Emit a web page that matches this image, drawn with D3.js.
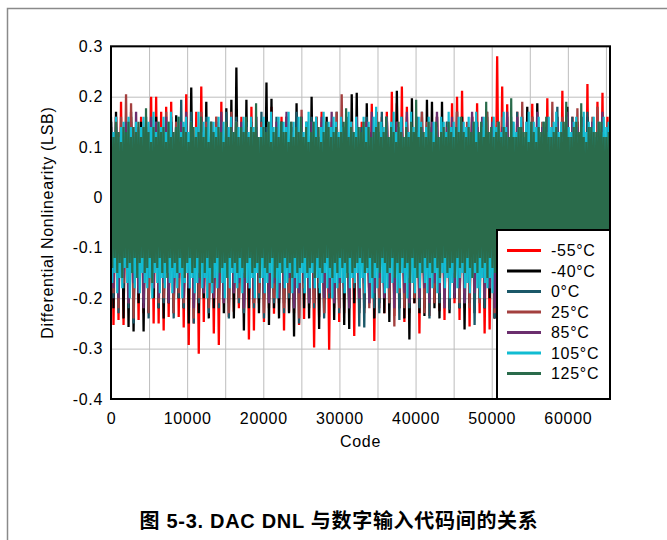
<!DOCTYPE html>
<html>
<head>
<meta charset="utf-8">
<script src="https://cdn.jsdelivr.net/npm/d3@7"></script>
<style>
  body { margin: 0; background: #fff; }
  svg text { font-family: "Liberation Sans", Arial, sans-serif; fill: #000; }
</style>
</head>
<body>
<svg id="chart" width="667" height="540"></svg>
<script>
// ---- axis definitions ----
const codeMax = 65535;
const xTicks = [0, 10000, 20000, 30000, 40000, 50000, 60000];
const xGrid = [5000, 10000, 15000, 20000, 25000, 30000, 35000, 40000, 45000, 50000, 55000, 60000, 65000];
const yTicks = [-0.4, -0.3, -0.2, -0.1, 0, 0.1, 0.2, 0.3];
const yTickLabels = ["-0.4", "-0.3", "-0.2", "-0.1", "0", "0.1", "0.2", "0.3"];

// ---- series (drawn in this order; later ones sit on top) ----
const seriesNames = ["-55°C", "-40°C", "0°C", "25°C", "85°C", "105°C", "125°C"];
const seriesColors = ["#ff0000", "#000000", "#1b5868", "#a3403f", "#6b2e6e", "#11bcd2", "#2a6b4b"];

// Positive DNL peaks (LSB) at evenly spaced code windows
const hiM55 = [
  .14,.16,.19,.13,.15,.14,.16,.13,.2,.2,
  .17,.18,.19,.14,.13,.205,.15,.17,.22,.14,
  .13,.16,.19,.15,.14,.13,.16,.15,.18,.14,
  .15,.13,.18,.14,.16,.15,.13,.14,.16,.15,
  .14,.16,.17,.13,.15,.14,.16,.15,.13,.14,
  .15,.14,.186,.13,.16,.17,.21,.187,.22,.18,
  .14,.15,.16,.13,.14,.16,.15,.13,.187,.2,
  .212,.14,.16,.187,.15,.13,.16,.28,.22,.185,
  .14,.17,.15,.13,.186,.16,.14,.197,.15,.13,
  .212,.14,.16,.15,.13,.225,.14,.19,.208,.16];
const hiM40 = [
  .15,.17,.13,.14,.16,.12,.15,.14,.13,.16,
  .14,.12,.15,.163,.13,.16,.218,.14,.12,.19,
  .13,.15,.14,.177,.194,.258,.13,.194,.15,.12,
  .14,.228,.196,.13,.15,.16,.12,.187,.14,.13,
  .2,.15,.13,.16,.14,.12,.15,.13,.205,.208,
  .14,.187,.13,.15,.12,.16,.14,.212,.13,.15,
  .197,.14,.12,.194,.19,.13,.19,.15,.14,.12,
  .16,.13,.15,.14,.12,.16,.13,.15,.14,.12,
  .15,.13,.16,.18,.14,.187,.12,.15,.13,.16,
  .14,.18,.13,.15,.12,.16,.14,.13,.15,.14];
const hi0 = [
  .16,.14,.13,.15,.17,.12,.14,.16,.13,.15,
  .14,.12,.16,.15,.194,.13,.17,.14,.12,.16,
  .15,.13,.14,.17,.12,.16,.13,.15,.14,.12,
  .17,.14,.13,.16,.15,.12,.14,.17,.13,.15,
  .16,.13,.12,.15,.14,.17,.13,.16,.15,.12,
  .14,.16,.13,.12,.17,.15,.14,.13,.16,.14,
  .12,.15,.17,.13,.14,.16,.12,.15,.13,.17,
  .14,.12,.16,.15,.13,.17,.14,.12,.15,.16,
  .13,.17,.14,.12,.16,.15,.13,.14,.12,.18,
  .15,.13,.16,.14,.12,.17,.15,.13,.16,.14];
const hi25 = [
  .15,.13,.16,.205,.187,.14,.12,.15,.16,.13,
  .14,.17,.12,.15,.13,.16,.14,.12,.17,.15,
  .13,.16,.14,.12,.17,.15,.13,.14,.16,.12,
  .15,.13,.17,.14,.12,.16,.15,.13,.174,.14,
  .12,.16,.15,.13,.14,.17,.205,.12,.15,.16,
  .13,.15,.12,.17,.14,.16,.13,.15,.12,.16,
  .14,.12,.17,.15,.13,.16,.14,.12,.15,.17,
  .13,.15,.16,.12,.14,.17,.13,.15,.16,.12,
  .15,.14,.19,.13,.16,.12,.15,.14,.19,.13,
  .16,.12,.14,.177,.15,.13,.16,.18,.14,.15];
const hi85 = [
  .14,.16,.13,.15,.12,.17,.14,.13,.16,.15,
  .13,.16,.14,.12,.15,.17,.13,.14,.16,.12,
  .15,.13,.17,.14,.16,.12,.15,.14,.13,.16,
  .14,.12,.16,.15,.13,.17,.14,.12,.16,.13,
  .15,.14,.16,.13,.17,.12,.15,.14,.13,.16,
  .12,.15,.17,.14,.13,.16,.12,.15,.14,.17,
  .13,.16,.14,.12,.15,.17,.13,.14,.16,.12,
  .15,.13,.17,.14,.16,.12,.15,.13,.14,.17,
  .14,.16,.12,.15,.13,.17,.14,.16,.12,.15,
  .13,.17,.15,.14,.16,.12,.15,.13,.17,.14];
// 105°C and 125°C are sampled at twice the resolution
const hi105 = [
  .15,.13,.16,.12,.14,.15,.13,.16,.14,.12,
  .15,.13,.14,.16,.12,.15,.14,.17,.13,.15,
  .14,.16,.13,.15,.17,.12,.14,.16,.13,.15,
  .16,.13,.15,.12,.14,.17,.13,.15,.14,.16,
  .12,.15,.14,.16,.13,.15,.12,.14,.16,.13,
  .15,.14,.12,.16,.15,.13,.16,.14,.15,.12,
  .14,.16,.13,.15,.17,.14,.12,.16,.13,.15,
  .14,.17,.13,.15,.12,.16,.14,.13,.15,.17,
  .13,.15,.16,.12,.14,.17,.13,.15,.14,.16,
  .15,.13,.16,.14,.12,.17,.15,.13,.16,.14,
  .13,.16,.14,.15,.12,.16,.18,.13,.15,.14,
  .16,.12,.15,.17,.13,.14,.16,.12,.15,.13,
  .17,.14,.13,.16,.15,.12,.14,.16,.13,.15,
  .14,.12,.16,.15,.13,.17,.14,.15,.12,.16,
  .13,.15,.14,.16,.12,.15,.17,.13,.14,.16,
  .15,.13,.12,.16,.14,.15,.13,.17,.14,.12,
  .16,.15,.13,.14,.16,.12,.15,.17,.13,.15,
  .14,.16,.12,.15,.13,.16,.14,.15,.17,.13,
  .15,.12,.16,.14,.13,.15,.16,.12,.14,.17,
  .13,.15,.14,.16,.12,.15,.13,.16,.14,.15];
const hi125 = [
  .14,.12,.15,.13,.11,.14,.13,.15,.12,.14,
  .13,.15,.12,.14,.177,.13,.11,.14,.12,.15,
  .13,.14,.11,.15,.12,.13,.14,.16,.12,.14,
  .13,.11,.15,.14,.12,.13,.16,.12,.14,.11,
  .15,.13,.12,.14,.13,.11,.15,.12,.14,.13,
  .15,.12,.14,.13,.16,.12,.14,.13,.187,.12,
  .12,.14,.13,.15,.11,.13,.14,.12,.15,.13,
  .13,.11,.15,.12,.14,.13,.16,.12,.14,.11,
  .13,.15,.12,.14,.11,.13,.15,.14,.12,.13,
  .14,.12,.13,.15,.177,.12,.14,.13,.12,.14,
  .13,.15,.11,.14,.12,.13,.14,.15,.12,.13,
  .16,.12,.14,.13,.11,.15,.13,.12,.14,.12,
  .15,.13,.194,.12,.14,.13,.12,.15,.13,.11,
  .15,.12,.13,.14,.12,.15,.13,.12,.14,.13,
  .16,.13,.12,.14,.13,.15,.11,.13,.15,.12,
  .19,.13,.14,.12,.13,.15,.12,.14,.13,.12,
  .197,.12,.12,.14,.14,.13,.13,.11,.15,.13,
  .11,.14,.13,.15,.16,.12,.12,.13,.14,.12,
  .13,.15,.19,.12,.12,.14,.15,.13,.187,.12,
  .11,.14,.14,.13,.13,.15,.15,.12,.12,.13];

// Negative DNL troughs (LSB), one after each peak
const loM55 = [
  -.253,-.243,-.253,-.22,-.21,-.243,-.23,-.228,-.25,-.25,
  -.264,-.237,-.22,-.237,-.258,-.293,-.25,-.31,-.247,-.22,
  -.27,-.293,-.21,-.237,-.227,-.22,-.23,-.282,-.264,-.21,
  -.247,-.22,-.231,-.21,-.264,-.227,-.23,-.253,-.241,-.22,
  -.298,-.237,-.21,-.302,-.22,-.247,-.23,-.21,-.275,-.22,
  -.23,-.21,-.285,-.22,-.23,-.21,-.235,-.22,-.247,-.23,
  -.21,-.27,-.22,-.235,-.21,-.226,-.243,-.22,-.21,-.243,
  -.22,-.256,-.21,-.23,-.27,-.262,-.24,-.22,-.26,-.23,
  -.25,-.22,-.27,-.23,-.21,-.26,-.24,-.22,-.28,-.23,
  -.21,-.26,-.24,-.22,-.27,-.23,-.25,-.21,-.26,-.24];
const loM40 = [
  -.22,-.2,-.24,-.257,-.266,-.21,-.266,-.23,-.2,-.22,
  -.24,-.21,-.23,-.2,-.22,-.25,-.21,-.23,-.2,-.24,
  -.22,-.2,-.23,-.21,-.24,-.2,-.264,-.22,-.21,-.23,
  -.2,-.253,-.22,-.24,-.21,-.23,-.276,-.2,-.22,-.24,
  -.21,-.261,-.23,-.2,-.243,-.22,-.253,-.261,-.21,-.23,
  -.22,-.2,-.24,-.21,-.23,-.247,-.2,-.22,-.24,-.282,
  -.21,-.23,-.235,-.2,-.22,-.24,-.21,-.23,-.2,-.22,
  -.262,-.21,-.23,-.2,-.22,-.2,-.24,-.22,-.21,-.23,
  -.2,-.24,-.22,-.21,-.23,-.2,-.25,-.22,-.21,-.24,
  -.22,-.2,-.23,-.21,-.24,-.22,-.2,-.23,-.21,-.25];
const lo0 = [
  -.2,-.23,-.18,-.22,-.25,-.19,-.21,-.24,-.18,-.22,
  -.21,-.19,-.24,-.2,-.22,-.18,-.25,-.21,-.19,-.23,
  -.18,-.22,-.2,-.24,-.19,-.21,-.23,-.18,-.22,-.2,
  -.24,-.19,-.21,-.18,-.23,-.2,-.22,-.25,-.19,-.21,
  -.22,-.18,-.24,-.2,-.21,-.23,-.19,-.22,-.18,-.256,
  -.258,-.2,-.22,-.23,-.19,-.21,-.18,-.243,-.2,-.22,
  -.19,-.22,-.2,-.24,-.18,-.21,-.2,-.223,-.19,-.22,
  -.21,-.19,-.253,-.2,-.22,-.18,-.24,-.2,-.21,-.19,
  -.23,-.2,-.18,-.22,-.21,-.24,-.19,-.21,-.23,-.2,
  -.18,-.22,-.21,-.19,-.24,-.2,-.22,-.18,-.21,-.23];
const lo25 = [
  -.19,-.22,-.17,-.21,-.24,-.18,-.2,-.23,-.17,-.21,
  -.2,-.18,-.23,-.19,-.21,-.17,-.24,-.2,-.18,-.22,
  -.17,-.21,-.19,-.23,-.18,-.2,-.22,-.17,-.21,-.19,
  -.23,-.18,-.2,-.17,-.22,-.19,-.21,-.24,-.18,-.2,
  -.21,-.17,-.23,-.19,-.2,-.22,-.18,-.21,-.17,-.2,
  -.19,-.22,-.18,-.2,-.17,-.21,-.256,-.19,-.22,-.18,
  -.2,-.17,-.23,-.19,-.21,-.18,-.22,-.2,-.17,-.21,
  -.19,-.22,-.18,-.21,-.2,-.17,-.23,-.19,-.21,-.18,
  -.22,-.19,-.17,-.21,-.2,-.23,-.18,-.2,-.22,-.19,
  -.17,-.21,-.2,-.18,-.23,-.19,-.21,-.17,-.2,-.22];
const lo85 = [
  -.18,-.2,-.16,-.21,-.17,-.19,-.22,-.16,-.18,-.2,
  -.17,-.21,-.19,-.16,-.2,-.18,-.22,-.17,-.19,-.16,
  -.2,-.18,-.21,-.16,-.19,-.17,-.22,-.18,-.2,-.16,
  -.19,-.21,-.17,-.2,-.18,-.16,-.22,-.19,-.17,-.21,
  -.18,-.16,-.2,-.19,-.21,-.17,-.18,-.22,-.16,-.2,
  -.17,-.21,-.19,-.16,-.2,-.18,-.22,-.17,-.19,-.21,
  -.16,-.2,-.18,-.21,-.17,-.19,-.22,-.16,-.2,-.18,
  -.21,-.17,-.19,-.16,-.2,-.18,-.22,-.17,-.19,-.21,
  -.18,-.16,-.2,-.19,-.17,-.21,-.18,-.22,-.16,-.19,
  -.2,-.17,-.21,-.18,-.16,-.19,-.22,-.17,-.2,-.18];
const lo105 = [
  -.17,-.15,-.19,-.16,-.18,-.14,-.17,-.2,-.15,-.18,
  -.16,-.19,-.15,-.17,-.18,-.16,-.2,-.15,-.17,-.19,
  -.16,-.18,-.15,-.17,-.19,-.16,-.18,-.15,-.2,-.17,
  -.15,-.18,-.16,-.19,-.17,-.15,-.18,-.16,-.2,-.17,
  -.19,-.16,-.18,-.15,-.17,-.2,-.16,-.18,-.15,-.17,
  -.18,-.16,-.19,-.15,-.17,-.18,-.16,-.2,-.15,-.17,
  -.16,-.19,-.17,-.15,-.18,-.16,-.2,-.17,-.15,-.18,
  -.17,-.15,-.19,-.16,-.18,-.17,-.15,-.19,-.16,-.18,
  -.15,-.18,-.16,-.19,-.17,-.15,-.18,-.16,-.2,-.17,
  -.18,-.16,-.17,-.19,-.15,-.18,-.16,-.17,-.15,-.18,
  -.16,-.19,-.15,-.17,-.2,-.16,-.18,-.15,-.17,-.19,
  -.18,-.15,-.17,-.16,-.19,-.18,-.15,-.17,-.2,-.16,
  -.17,-.19,-.16,-.18,-.15,-.17,-.19,-.16,-.18,-.15,
  -.19,-.17,-.15,-.18,-.16,-.2,-.17,-.15,-.18,-.16,
  -.15,-.18,-.17,-.19,-.16,-.15,-.18,-.2,-.16,-.17,
  -.18,-.16,-.19,-.15,-.17,-.18,-.16,-.19,-.15,-.17,
  -.16,-.18,-.15,-.2,-.17,-.16,-.19,-.15,-.18,-.17,
  -.19,-.15,-.17,-.16,-.18,-.19,-.15,-.17,-.16,-.18,
  -.15,-.17,-.19,-.16,-.18,-.15,-.17,-.2,-.16,-.18,
  -.17,-.16,-.18,-.15,-.19,-.17,-.16,-.18,-.15,-.17];
const lo125 = [
  -.14,-.12,-.15,-.13,-.16,-.12,-.14,-.13,-.15,-.12,
  -.16,-.13,-.12,-.15,-.14,-.12,-.17,-.13,-.14,-.12,
  -.15,-.13,-.16,-.12,-.14,-.13,-.15,-.12,-.14,-.16,
  -.13,-.12,-.15,-.14,-.12,-.16,-.13,-.15,-.12,-.14,
  -.17,-.13,-.12,-.15,-.14,-.13,-.16,-.12,-.14,-.13,
  -.15,-.12,-.14,-.16,-.13,-.12,-.15,-.14,-.13,-.16,
  -.12,-.14,-.15,-.13,-.12,-.16,-.14,-.13,-.15,-.12,
  -.14,-.13,-.16,-.12,-.15,-.14,-.13,-.12,-.15,-.14,
  -.13,-.16,-.12,-.14,-.15,-.13,-.12,-.14,-.16,-.13,
  -.15,-.12,-.14,-.13,-.16,-.12,-.15,-.14,-.13,-.12,
  -.13,-.15,-.14,-.12,-.16,-.13,-.14,-.15,-.12,-.13,
  -.15,-.14,-.12,-.16,-.13,-.15,-.12,-.14,-.13,-.17,
  -.12,-.14,-.16,-.13,-.15,-.12,-.14,-.13,-.15,-.12,
  -.14,-.16,-.13,-.12,-.15,-.14,-.13,-.16,-.12,-.14,
  -.13,-.15,-.12,-.14,-.16,-.13,-.15,-.12,-.14,-.13,
  -.16,-.12,-.14,-.15,-.13,-.12,-.14,-.16,-.13,-.15,
  -.12,-.14,-.13,-.15,-.16,-.12,-.13,-.14,-.15,-.13,
  -.14,-.12,-.16,-.13,-.15,-.14,-.12,-.13,-.16,-.14,
  -.13,-.15,-.12,-.14,-.13,-.16,-.15,-.12,-.14,-.13,
  -.15,-.13,-.14,-.16,-.12,-.14,-.13,-.15,-.12,-.14];

const peaks = [hiM55, hiM40, hi0, hi25, hi85, hi105, hi125];
const troughs = [loM55, loM40, lo0, lo25, lo85, lo105, lo125];

// ---- layout ----
const svg = d3.select("#chart");
const plot = { left: 111, right: 610, top: 46.3, bottom: 399 };

const x = d3.scaleLinear().domain([0, codeMax]).range([plot.left, plot.right]);
const y = d3.scaleLinear().domain([-0.4, 0.3]).range([plot.bottom, plot.top]);

// outer figure frame
svg.append("path")
  .attr("d", "M7.5,540 L7.5,8.5 L667,8.5")
  .attr("fill", "none").attr("stroke", "#8a8a8a").attr("stroke-width", 1.5);

// gridlines
svg.append("g")
  .attr("transform", `translate(0,${plot.bottom})`)
  .call(d3.axisBottom(x).tickValues(xGrid).tickSize(-(plot.bottom - plot.top)).tickFormat(""))
  .call(g => g.select(".domain").remove())
  .call(g => g.selectAll("line").attr("stroke", "#bdbdbd").attr("stroke-width", 1));
svg.append("g")
  .attr("transform", `translate(${plot.left},0)`)
  .call(d3.axisLeft(y).tickValues(yTicks).tickSize(-(plot.right - plot.left)).tickFormat(""))
  .call(g => g.select(".domain").remove())
  .call(g => g.selectAll("line").attr("stroke", "#bdbdbd").attr("stroke-width", 1));

// clip for the data
svg.append("clipPath").attr("id", "plotClip")
  .append("rect")
  .attr("x", plot.left).attr("y", plot.top)
  .attr("width", plot.right - plot.left).attr("height", plot.bottom - plot.top);

// each series: peaks and troughs alternate along the code axis
function zigzag(hi, lo) {
  const step = codeMax / (hi.length * 2 - 1);
  const pts = [];
  for (let k = 0; k < hi.length; k++) {
    pts.push([2 * k * step, hi[k]]);
    pts.push([(2 * k + 1) * step, lo[k]]);
  }
  return pts;
}
const line = d3.line().x(d => x(d[0])).y(d => y(d[1]));

const dataG = svg.append("g").attr("clip-path", "url(#plotClip)");
seriesNames.forEach((name, i) => {
  const dense = peaks[i].length > 100;
  dataG.append("path")
    .datum(zigzag(peaks[i], troughs[i]))
    .attr("d", line)
    .attr("fill", "none")
    .attr("stroke", seriesColors[i])
    .attr("stroke-width", dense ? 2.2 : 2.3)
    .attr("stroke-linejoin", "bevel");
});

// plot border
svg.append("rect")
  .attr("x", plot.left).attr("y", plot.top)
  .attr("width", plot.right - plot.left).attr("height", plot.bottom - plot.top)
  .attr("fill", "none").attr("stroke", "#000").attr("stroke-width", 2);

// tick labels
const labelStyle = sel => sel.attr("font-size", 16).attr("letter-spacing", 0.7);
svg.append("g")
  .attr("transform", `translate(0,${plot.bottom})`)
  .call(d3.axisBottom(x).tickValues(xTicks).tickSize(0).tickPadding(14).tickFormat(d => String(d)))
  .call(g => g.select(".domain").remove())
  .call(g => g.selectAll("text").attr("font-family", null).call(labelStyle));
svg.append("g")
  .attr("transform", `translate(${plot.left},0)`)
  .call(d3.axisLeft(y).tickValues(yTicks).tickSize(0).tickPadding(8)
    .tickFormat((d, i) => yTickLabels[i]))
  .call(g => g.select(".domain").remove())
  .call(g => g.selectAll("text").attr("font-family", null).call(labelStyle));

// axis titles
svg.append("text")
  .attr("x", (plot.left + plot.right) / 2).attr("y", 447)
  .attr("text-anchor", "middle").call(labelStyle)
  .text("Code");
svg.append("text")
  .attr("transform", `translate(53,${(plot.top + plot.bottom) / 2}) rotate(-90)`)
  .attr("text-anchor", "middle").call(labelStyle)
  .text("Differential Nonlinearity (LSB)");

// legend
const legend = { left: 497, top: 230 };
svg.append("rect")
  .attr("x", legend.left).attr("y", legend.top)
  .attr("width", plot.right - legend.left).attr("height", plot.bottom - legend.top)
  .attr("fill", "#fff").attr("stroke", "#000").attr("stroke-width", 2);
const legendRow = d3.scaleLinear().domain([0, 6]).range([250.5, 373.5]);
seriesNames.forEach((name, i) => {
  const ly = legendRow(i);
  svg.append("line")
    .attr("x1", 507).attr("x2", 541).attr("y1", ly).attr("y2", ly)
    .attr("stroke", seriesColors[i]).attr("stroke-width", 3);
  svg.append("text")
    .attr("x", 551).attr("y", ly).attr("dy", "0.35em")
    .call(labelStyle)
    .text(name);
});

// caption
svg.append("text")
  .attr("x", 339).attr("y", 528)
  .attr("text-anchor", "middle")
  .attr("font-size", 20).attr("font-weight", "bold").attr("letter-spacing", 0.7)
  .style("font-family", '"Liberation Sans", Arial, "Noto Sans CJK SC", sans-serif')
  .text("图 5-3. DAC DNL 与数字输入代码间的关系");
</script>
</body>
</html>
